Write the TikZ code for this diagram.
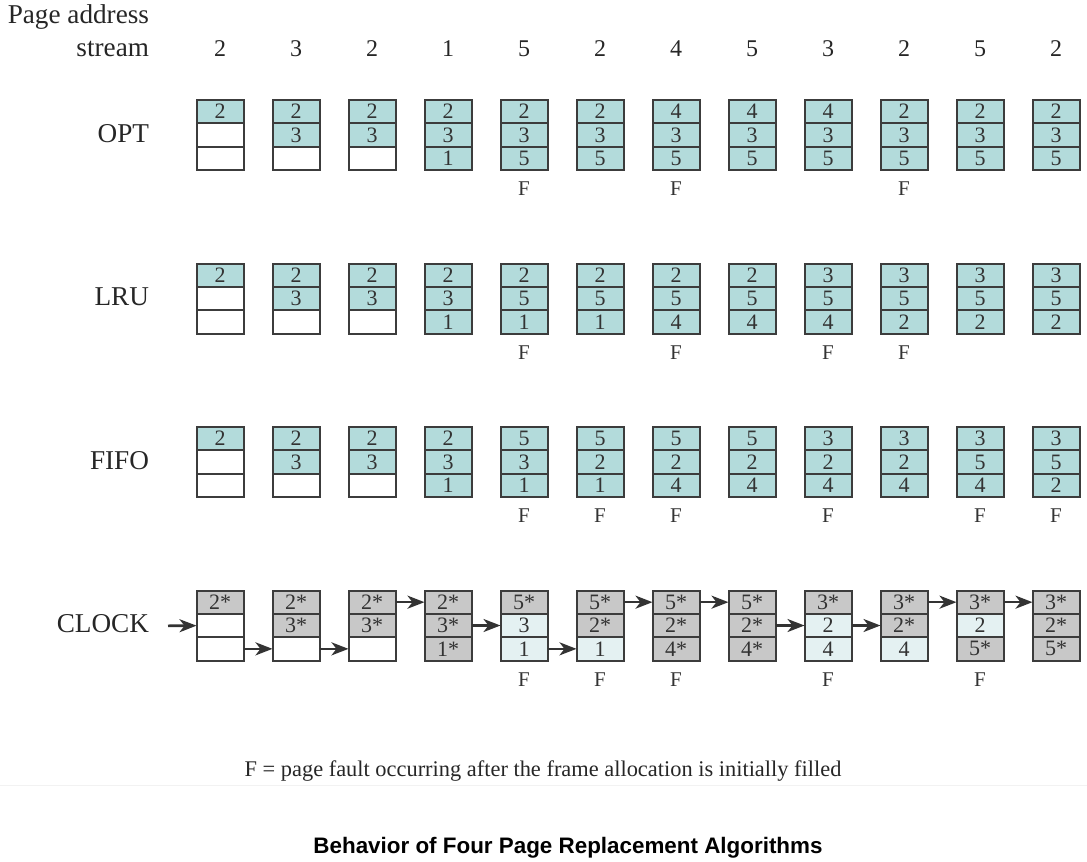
\documentclass[tikz,border=0pt]{standalone}
\usepackage{fontspec}
\setmainfont{Liberation Serif}
\newfontfamily\titlefont{Liberation Sans}
\usepackage{tikz}
\usetikzlibrary{
	arrows.meta,
	positioning
}
\definecolor{pg}{HTML}{B3DBDB}
\definecolor{us}{HTML}{C8C8C8}
\definecolor{nu}{HTML}{E4F1F2}
\definecolor{ep}{HTML}{FFFFFF}
\definecolor{framegray}{HTML}{3C3C3C}
\definecolor{inkgray}{HTML}{333333}
\tikzset{every path/.append style={line width=1pt}}
\tikzset{
	cell/.style={rectangle,draw=framegray,fill=#1,minimum width=23.5pt,minimum height=11.67pt,
		inner sep=0pt,outer sep=0pt,text=inkgray,font=\fontsize{11}{11}\selectfont},
	fault/.style={inner sep=0pt,text=inkgray,font=\fontsize{10.5}{10.5}\selectfont},
	algo/.style={anchor=east,inner sep=0pt,text=black!85,font=\fontsize{13.6}{13.6}\selectfont},
	ptr/.style={-{Stealth[length=8.5pt,width=6.5pt,inset=2.5pt]},draw=inkgray,fill=inkgray,line width=1.3pt}
}
% one row of frame columns: name, top y, list col/fill/page/fill/page/fill/page
\newcommand{\tikzRow}[3]{%
	\foreach \i/\sa/\a/\sb/\b/\sc/\c in {#3}{
		\node (#1-\i-1) [cell=\sa,anchor=north] at (144+76*\i,#2) {\a};
		\node (#1-\i-2) [cell=\sb,below=0pt of #1-\i-1] {\b};
		\node (#1-\i-3) [cell=\sc,below=0pt of #1-\i-2] {\c};
	}%
}

\begin{document}
\begin{tikzpicture}[x=0.5pt,y=-0.5pt]
	\useasboundingbox (0,0) rectangle (1087,862);

	% page address stream
	\node (pas-a) [algo,anchor=base east] at (150,24) {Page address};
	\node (pas-b) [algo,anchor=base east] at (150,56) {stream};
	\foreach \i/\p in {1/2,2/3,3/2,4/1,5/5,6/2,7/4,8/5,9/3,10/2,11/5,12/2}
		\node (ref-\i) [algo,anchor=base,font=\fontsize{12}{12}\selectfont] at (144+76*\i,56) {\p};

	% OPT
	\node (lbl-opt) [algo] at (150,133.5) {OPT};
	\tikzRow{opt}{100}{
		1/pg/2/ep/{}/ep/{}, 2/pg/2/pg/3/ep/{}, 3/pg/2/pg/3/ep/{}, 4/pg/2/pg/3/pg/1,
		5/pg/2/pg/3/pg/5, 6/pg/2/pg/3/pg/5, 7/pg/4/pg/3/pg/5, 8/pg/4/pg/3/pg/5,
		9/pg/4/pg/3/pg/5, 10/pg/2/pg/3/pg/5, 11/pg/2/pg/3/pg/5, 12/pg/2/pg/3/pg/5}
	\foreach \i in {5,7,10}
		\node (opt-F\i) [fault,below=5.5pt of opt-\i-3] {F};

	% LRU
	\node (lbl-lru) [algo] at (150,297) {LRU};
	\tikzRow{lru}{263.5}{
		1/pg/2/ep/{}/ep/{}, 2/pg/2/pg/3/ep/{}, 3/pg/2/pg/3/ep/{}, 4/pg/2/pg/3/pg/1,
		5/pg/2/pg/5/pg/1, 6/pg/2/pg/5/pg/1, 7/pg/2/pg/5/pg/4, 8/pg/2/pg/5/pg/4,
		9/pg/3/pg/5/pg/4, 10/pg/3/pg/5/pg/2, 11/pg/3/pg/5/pg/2, 12/pg/3/pg/5/pg/2}
	\foreach \i in {5,7,9,10}
		\node (lru-F\i) [fault,below=5.5pt of lru-\i-3] {F};

	% FIFO
	\node (lbl-fifo) [algo] at (150,460.5) {FIFO};
	\tikzRow{fifo}{427}{
		1/pg/2/ep/{}/ep/{}, 2/pg/2/pg/3/ep/{}, 3/pg/2/pg/3/ep/{}, 4/pg/2/pg/3/pg/1,
		5/pg/5/pg/3/pg/1, 6/pg/5/pg/2/pg/1, 7/pg/5/pg/2/pg/4, 8/pg/5/pg/2/pg/4,
		9/pg/3/pg/2/pg/4, 10/pg/3/pg/2/pg/4, 11/pg/3/pg/5/pg/4, 12/pg/3/pg/5/pg/2}
	\foreach \i in {5,6,7,9,11,12}
		\node (fifo-F\i) [fault,below=5.5pt of fifo-\i-3] {F};

	% CLOCK
	\node (lbl-clk) [algo] at (150,624) {CLOCK};
	\tikzRow{clk}{590.5}{
		1/us/2*/ep/{}/ep/{}, 2/us/2*/us/3*/ep/{}, 3/us/2*/us/3*/ep/{}, 4/us/2*/us/3*/us/1*,
		5/us/5*/nu/3/nu/1, 6/us/5*/us/2*/nu/1, 7/us/5*/us/2*/us/4*, 8/us/5*/us/2*/us/4*,
		9/us/3*/nu/2/nu/4, 10/us/3*/us/2*/nu/4, 11/us/3*/nu/2/us/5*, 12/us/3*/us/2*/us/5*}
	\foreach \i in {5,6,7,9,11}
		\node (clk-F\i) [fault,below=5.5pt of clk-\i-3] {F};

	\coordinate (clk-in) at (168,625.8);
	\draw[ptr] (clk-in) -- (clk-1-2);
	\foreach \i/\j/\r in {1/2/3,2/3/3,3/4/1,4/5/2,5/6/3,6/7/1,7/8/1,8/9/2,9/10/2,10/11/1,11/12/1}
		\draw[ptr] (clk-\i-\r) -- (clk-\j-\r);

	\node (note) [anchor=base,inner sep=0pt,text=black!85,font=\fontsize{11.2}{11.2}\selectfont]
		at (543,776) {F = page fault occurring after the frame allocation is initially filled};
	\draw[black!5,line width=0.5pt] (0,785) -- (1087,785);

	\node (title) [anchor=base,inner sep=0pt,font=\titlefont\bfseries\fontsize{11.2}{11.2}\selectfont]
		at (568,853) {Behavior of Four Page Replacement Algorithms};
\end{tikzpicture}
\end{document}
